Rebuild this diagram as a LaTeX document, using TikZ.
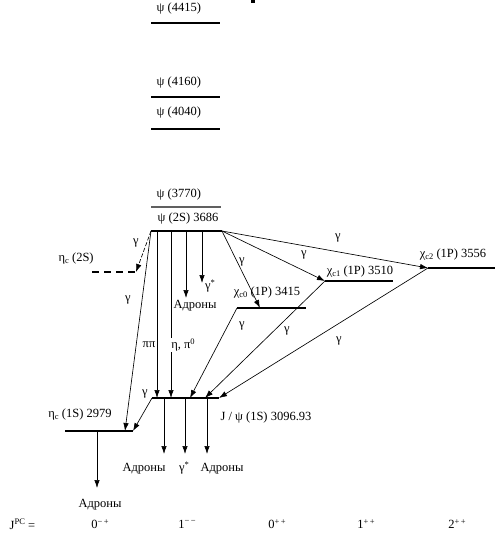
\documentclass[tikz,border=0pt]{standalone}
\usepackage{fontspec}
\setmainfont{Liberation Serif}
\usetikzlibrary{arrows.meta}
\newcommand{\lsub}[1]{\raisebox{-0.4ex}{\fontsize{8.5}{9}\selectfont #1}}
\newcommand{\lsup}[1]{\raisebox{0.8ex}{\fontsize{8.5}{9}\selectfont #1}}
\begin{document}
\begin{tikzpicture}[x=1pt,y=-1pt,font=\fontsize{12.5}{14}\selectfont,
  level/.style={line width=1.9pt},
  dlevel/.style={line width=1.9pt,dash pattern=on 7pt off 5pt},
  tr/.style={line width=0.65pt,-{Latex[length=8pt,width=5.5pt]}},
  dtr/.style={tr,dash pattern=on 4pt off 2pt},
  lbl/.style={inner sep=0.5pt},
  wlbl/.style={inner sep=1pt,fill=white}]
\useasboundingbox (0,0) rectangle (503,541);
\fill (251,0) rectangle (255,3);
% level end points
\coordinate (a1) at (151,23);  \coordinate (a2) at (220,23);
\coordinate (b1) at (151,97);  \coordinate (b2) at (220,97);
\coordinate (c1) at (151,129); \coordinate (c2) at (220,129);
\coordinate (d1) at (151,207); \coordinate (d2) at (221,207);
\coordinate (pL) at (151,231); \coordinate (pR) at (222,231);
\coordinate (p1) at (157,231); \coordinate (p2) at (171,231);
\coordinate (p3) at (186,231); \coordinate (p4) at (202,231);
\coordinate (e1) at (92,272);  \coordinate (e2) at (136,272);
\coordinate (x0L) at (237,308); \coordinate (x0R) at (306,308); \coordinate (x0a) at (260,308);
\coordinate (x1L) at (325,281); \coordinate (x1R) at (393,281);
\coordinate (x2L) at (428,268); \coordinate (x2R) at (495,268);
\coordinate (jL) at (152,398); \coordinate (jR) at (219,398);
\coordinate (j1) at (157,398); \coordinate (j2) at (171,398);
\coordinate (j3) at (190,398); \coordinate (j4) at (205,398); \coordinate (j5) at (219,398);
\coordinate (jd1) at (164,398); \coordinate (jd2) at (185,398); \coordinate (jd3) at (207,398);
\coordinate (hL) at (65,431); \coordinate (hR) at (133,431);
\coordinate (h1) at (125,431); \coordinate (hd) at (97,431);
% decay ends
\coordinate (q3) at (186,298); \coordinate (q4) at (202,283);
\coordinate (k1) at (164,454); \coordinate (k2) at (185,454); \coordinate (k3) at (207,454);
\coordinate (hk) at (97,488);
% levels
\draw[level] (a1) -- (a2);
\draw[level] (b1) -- (b2);
\draw[level] (c1) -- (c2);
\draw[level,gray!75!black,line width=1.6pt] (d1) -- (d2);
\draw[level] (pL) -- (pR);
\draw[dlevel] (e1) -- (e2);
\draw[level] (x0L) -- (x0R);
\draw[level] (x1L) -- (x1R);
\draw[level] (x2L) -- (x2R);
\draw[level] (jL) -- (jR);
\draw[level] (hL) -- (hR);
% level labels
\node[lbl,anchor=west] at (156,8) {ψ (4415)};
\node[lbl,anchor=west] at (156,82) {ψ (4160)};
\node[lbl,anchor=west] at (156,112) {ψ (4040)};
\node[lbl,anchor=west] at (156,194) {ψ (3770)};
\node[lbl,anchor=west] at (157,218) {ψ (2S) 3686};
\node[lbl,anchor=west] at (58,258) {η\lsub{c} (2S)};
\node[lbl] at (267,292) {χ\lsub{c0} (1P) 3415};
\node[lbl] at (360,271) {χ\lsub{c1} (1P) 3510};
\node[lbl] at (453,254) {χ\lsub{c2} (1P) 3556};
\node[lbl] at (266,417) {J / ψ (1S) 3096.93};
\node[lbl] at (80,414) {η\lsub{c} (1S) 2979};
% transitions from psi(2S)
\draw[dtr] (pL) -- (e2);
\draw[tr] (pL) -- (h1);
\draw[tr] (p1) -- (j1);
\draw[tr] (p2) -- (j2);
\draw[tr] (p3) -- (q3);
\draw[tr] (p4) -- (q4);
\draw[tr] (pR) -- (x0a);
\draw[tr] (pR) -- (x1L);
\draw[tr] (pR) -- (x2L);
% to J/psi
\draw[tr] (x0L) -- (j3);
\draw[tr] (x1L) -- (j4);
\draw[tr] (x2L) -- (j5);
\draw[tr] (jL) -- (hR);
% decays
\draw[tr] (jd1) -- (k1);
\draw[tr] (jd2) -- (k2);
\draw[tr] (jd3) -- (k3);
\draw[tr] (hd) -- (hk);
% transition labels
\node[lbl] at (136,243) {γ};
\node[lbl] at (128,300) {γ};
\node[lbl] at (149,345) {ππ};
\node[wlbl] at (183,345) {η, π\lsup{0}};
\node[lbl] at (195,306) {Адроны};
\node[lbl] at (210,286) {γ\lsup{*}};
\node[lbl] at (242,262) {γ};
\node[lbl] at (304,255) {γ};
\node[lbl] at (338,238) {γ};
\node[lbl] at (242,326) {γ};
\node[lbl] at (287,331) {γ};
\node[lbl] at (339,341) {γ};
\node[lbl] at (145,394) {γ};
\node[lbl] at (144,469) {Адроны};
\node[lbl] at (184,468) {γ\lsup{*}};
\node[lbl] at (222,469) {Адроны};
\node[lbl] at (100,505) {Адроны};
% quantum numbers
\node[lbl,anchor=west] at (9,524) {J\lsup{PC} =};
\node[lbl] at (100,524) {0\lsup{−\,+}};
\node[lbl] at (187,524) {1\lsup{−\,−}};
\node[lbl] at (277,524) {0\lsup{+\,+}};
\node[lbl] at (366,524) {1\lsup{+\,+}};
\node[lbl] at (457,524) {2\lsup{+\,+}};
\end{tikzpicture}
\end{document}
